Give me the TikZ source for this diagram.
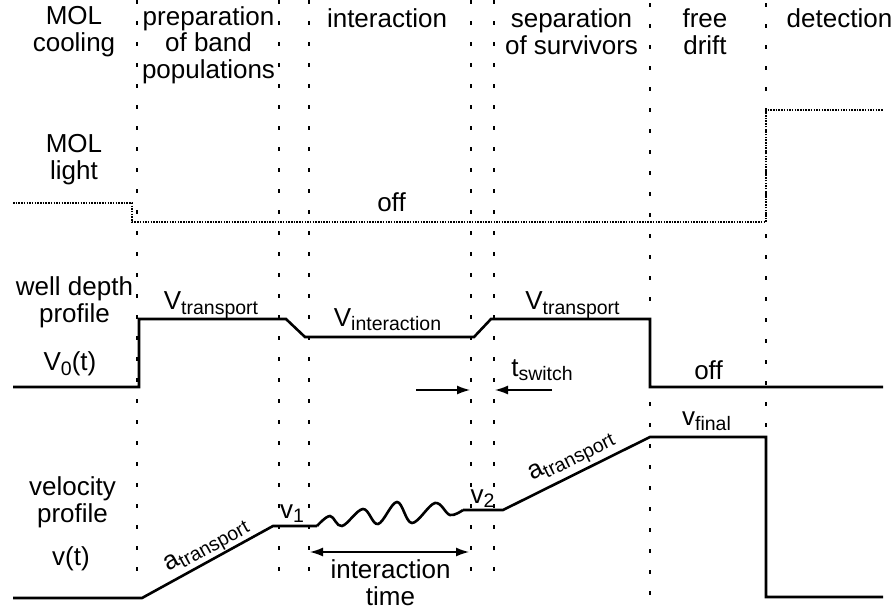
\documentclass[tikz,border=0pt]{standalone}
\usepackage{fontspec}
\setmainfont{Liberation Sans}
\usetikzlibrary{arrows.meta}
\newcommand{\lowsub}[1]{\raisebox{-4.5pt}{\fontsize{19.5}{19.5}\selectfont #1}}

\begin{document}
\begin{tikzpicture}[x=1pt,y=-1pt,
    lbl/.style={align=center,font=\fontsize{26}{26.5}\selectfont,inner sep=0pt},
    sig/.style={line width=2.6pt},
    sep/.style={line width=1.3pt,dash pattern=on 4pt off 17pt},
    mol/.style={line width=1.4pt,dash pattern=on 1.5pt off 1.2pt},
    tip/.style={line width=1.4pt,-{Latex[length=13pt,width=9pt]}},
    twotip/.style={line width=1.4pt,{Latex[length=13pt,width=9pt]}-{Latex[length=13pt,width=9pt]}}]
    \useasboundingbox (0,0) rectangle (895,611);

    %phase separators
    \foreach \x in {137,279,309,471,494} {
        \draw [sep] (\x,0) -- (\x,585);
    }
    \draw [sep] (650,3) -- (650,596);
    \draw [sep] (766,3) -- (766,596);

    %top headers
    \node (T1) at (74,31.5) [lbl]{MOL\\cooling};
    \node (T2) at (208.5,45) [lbl]{preparation\\of band\\populations};
    \node (T3) at (387,18) [lbl]{interaction};
    \node (T4) at (571.5,31.5) [lbl]{separation\\of survivors};
    \node (T5) at (705,31.5) [lbl]{free\\drift};
    \node (T6) at (839.5,18) [lbl]{detection};

    %row labels
    \node (L1) at (74,159.5) [lbl]{MOL\\light};
    \node (L2) at (74.5,302.5) [lbl]{well depth\\profile};
    \node (L3) at (70,364) [lbl]{V\lowsub{0}(t)};
    \node (L4) at (72.5,502.5) [lbl]{velocity\\profile};
    \node (L5) at (71,558.5) [lbl]{v(t)};

    %MOL light
    \draw [mol] (13,203) -- (132,203) -- (132,222) -- (766,222) -- (766,110) -- (883,110);
    \node (M1) at (391.5,202.5) [lbl]{off};

    %well depth
    \draw [sig] (13,387) -- (139,387) -- (139,319) -- (286,319) -- (305,337)
        -- (474,337) -- (491,319) -- (650,319) -- (650,387) -- (883,387);
    \node (W1) at (211,305) [lbl]{V\lowsub{transport}};
    \node (W2) at (387.5,319.5) [lbl]{V\lowsub{interaction}};
    \node (W3) at (572.5,305) [lbl]{V\lowsub{transport}};
    \node (W4) at (708.5,370) [lbl]{off};
    \node (W5) at (542,370) [lbl]{t\lowsub{switch}};

    %switching time arrows
    \coordinate (S1) at (416,390);
    \coordinate (S2) at (470,390);
    \coordinate (S3) at (552,390);
    \coordinate (S4) at (495,390);
    \draw [tip] (S1) -- (S2);
    \draw [tip] (S3) -- (S4);

    %velocity
    \draw [sig] (13,598) -- (142,598) -- (273,526) -- (317,526);
    \draw [sig] plot[smooth,tension=0.6] coordinates {(317,526) (330,516) (342,526)
        (363,509) (378,524) (397,502) (412,523) (435,503) (450,515) (463,510)};
    \draw [sig] (463,510) -- (503,510) -- (650,437) -- (766,437) -- (766,597) -- (883,597);
    \node (A1) at (207,547) [lbl,rotate=28.8]{a\lowsub{transport}};
    \node (A2) at (572,458) [lbl,rotate=26.4]{a\lowsub{transport}};
    \node (U1) at (292,513.5) [lbl]{v\lowsub{1}};
    \node (U2) at (482.5,498.5) [lbl]{v\lowsub{2}};
    \node (U3) at (706.5,421) [lbl]{v\lowsub{final}};

    %interaction time
    \coordinate (I1) at (310,552);
    \coordinate (I2) at (469,552);
    \draw [twotip] (I1) -- (I2);
    \node (I3) at (390.5,582.5) [lbl]{interaction\\time};
\end{tikzpicture}
\end{document}
